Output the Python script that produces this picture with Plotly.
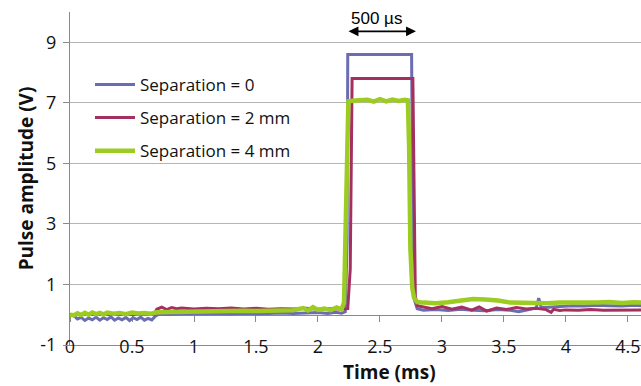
import plotly.graph_objects as go

# ---- data (time in ms, amplitude in V) ----
T_BLUE = [0.00,0.03,0.06,0.09,0.12,0.15,0.18,0.21,0.24,0.27,0.30,0.33,0.36,0.39,0.42,0.45,0.48,0.51,0.54,0.57,0.60,0.63,0.66,0.69,0.72,
          0.80,0.90,1.00,1.10,1.20,1.30,1.40,1.50,1.60,1.70,1.80,1.90,2.00,
          2.08,2.14,2.19,2.22,2.235,2.24,
          2.755,2.765,2.78,2.80,2.85,
          2.95,3.05,3.15,3.25,3.35,3.45,3.55,
          3.62,3.70,3.76,3.78,3.80,3.86,
          3.95,4.05,4.15,4.25,4.35,4.45,4.55,4.61]
V_BLUE = [0.00,-0.03,-0.14,-0.09,-0.19,-0.11,-0.17,-0.08,-0.18,-0.10,-0.16,-0.07,-0.18,-0.11,-0.17,-0.09,-0.19,-0.10,-0.16,-0.08,-0.18,-0.12,-0.17,-0.04,0.02,
          0.01,0.03,0.02,0.03,0.04,0.02,0.05,0.03,0.04,0.06,0.04,0.05,0.07,
          0.04,0.08,0.05,0.10,2.5,8.6,
          8.6,2.0,0.45,0.20,0.15,
          0.17,0.14,0.18,0.15,0.13,0.17,0.15,
          0.10,0.18,0.22,0.55,0.24,0.25,
          0.28,0.30,0.29,0.31,0.30,0.29,0.31,0.30]

T_MAR = [0.00,0.10,0.20,0.30,0.40,0.50,0.60,0.68,
         0.70,0.74,0.78,0.82,0.86,0.90,
         1.00,1.10,1.20,1.30,1.40,1.50,1.60,1.70,1.80,1.90,2.00,2.10,
         2.18,2.24,2.26,2.27,2.275,
         2.765,2.775,2.785,2.80,2.85,
         2.92,3.00,3.08,3.16,3.24,3.30,3.36,3.44,3.52,3.60,3.68,3.76,3.84,3.88,3.90,3.95,
         4.00,4.10,4.20,4.30,4.40,4.50,4.61]
V_MAR = [0.00,0.01,0.00,0.02,0.01,0.02,0.03,0.02,
         0.18,0.25,0.17,0.24,0.20,0.22,
         0.19,0.21,0.20,0.22,0.19,0.21,0.18,0.20,0.19,0.21,0.18,0.20,
         0.19,0.20,1.5,5.0,7.8,
         7.8,3.0,0.6,0.30,0.26,
         0.20,0.27,0.18,0.25,0.15,0.26,0.12,0.22,0.17,0.24,0.19,0.21,0.17,0.08,0.18,0.14,
         0.16,0.15,0.17,0.15,0.16,0.15,0.16]

T_GRN = [0.00,0.03,0.06,0.09,0.12,0.15,0.18,0.21,0.24,0.27,0.30,
         0.35,0.40,0.45,0.50,0.55,0.60,0.65,0.70,
         0.80,0.90,1.00,1.10,1.20,1.30,1.40,1.50,1.60,1.70,1.80,
         1.88,1.92,1.96,2.00,2.05,2.10,2.15,2.19,2.21,
         2.225,2.235,2.245,
         2.30,2.40,2.45,2.50,2.55,2.60,2.65,2.70,
         2.725,2.735,2.745,2.76,2.775,2.80,2.85,
         2.95,3.05,3.15,3.25,3.35,3.45,3.55,3.65,3.75,3.85,3.95,
         4.05,4.15,4.25,4.35,4.45,4.55,4.61]
V_GRN = [0.00,-0.02,0.05,-0.01,0.06,0.00,0.07,0.02,0.06,0.01,0.07,
         0.03,0.06,0.02,0.07,0.04,0.06,0.03,0.08,
         0.09,0.10,0.11,0.10,0.12,0.11,0.13,0.12,0.14,0.13,0.15,
         0.22,0.14,0.25,0.16,0.20,0.15,0.24,0.18,0.40,
         3.5,6.6,7.05,
         7.08,7.10,7.04,7.12,7.05,7.11,7.06,7.10,
         7.08,5.5,2.2,0.9,0.55,0.42,0.40,
         0.38,0.41,0.48,0.52,0.50,0.47,0.40,0.39,0.41,0.38,0.40,
         0.39,0.41,0.40,0.42,0.39,0.41,0.40]

SERIES_NAMES = ["Separation = 0", "Separation = 2 mm", "Separation = 4 mm"]
X_TICKS = [0, 0.5, 1, 1.5, 2, 2.5, 3, 3.5, 4, 4.5]
X_TICKTEXT = ["0", "0.5", "1", "1.5", "2", "2.5", "3", "3.5", "4", "4.5"]
Y_TICKS = [-1, 1, 3, 5, 7, 9]
Y_TICKTEXT = ["-1", "1", "3", "5", "7", "9"]

assert len(T_BLUE) == len(V_BLUE) and len(T_MAR) == len(V_MAR) and len(T_GRN) == len(V_GRN)

COLORS = ["#6b6db3", "#a3305f", "#9ccc22"]
WIDTHS = [3, 3, 4.5]
FONT = "Open Sans"
GRID = "#b5b5b5"
AXIS = "#8a8a8a"
FS = 18
FT = 19

fig = go.Figure()
for i, (t, v) in enumerate([(T_BLUE, V_BLUE), (T_MAR, V_MAR), (T_GRN, V_GRN)]):
    fig.add_trace(go.Scatter(x=t, y=v, mode="lines", name=SERIES_NAMES[i],
                             legendgroup=str(i),
                             line=dict(color=COLORS[i], width=WIDTHS[i])))
# carrier for the secondary axis drawn at y = 0
fig.add_trace(go.Scatter(x=[], y=[], xaxis="x2", showlegend=False, hoverinfo="skip"))

XR = [0, 4.605]
YR = [-1, 10]

fig.update_layout(
    width=641, height=386,
    margin=dict(l=70, r=0, t=12, b=41),
    paper_bgcolor="white", plot_bgcolor="white",
    font=dict(family=FONT, size=FS, color="#111111"),
    showlegend=True,
    legend=dict(x=0.035, y=0.835, xanchor="left", yanchor="top",
                bgcolor="rgba(0,0,0,0)", font=dict(family=FONT, size=17, color="#111111"),
                tracegroupgap=8, itemwidth=40),
    xaxis=dict(range=XR, tickvals=X_TICKS, ticktext=X_TICKTEXT, showgrid=False, zeroline=False,
               showline=True, linecolor=AXIS, linewidth=1, ticks="",
               ticklabelstandoff=-15, tickfont=dict(size=FS)),
    xaxis2=dict(range=XR, overlaying="x", anchor="free", position=1 / 11, tickvals=X_TICKS,
                showticklabels=False, showgrid=False, zeroline=False, showline=True,
                linecolor=AXIS, linewidth=1, ticks="outside", ticklen=6, tickcolor=AXIS,
                layer="below traces"),
    yaxis=dict(range=YR, tickvals=Y_TICKS, ticktext=Y_TICKTEXT, showgrid=True, gridcolor=GRID,
               gridwidth=1, zeroline=False, showline=True, linecolor=AXIS, linewidth=1,
               ticks="outside", ticklen=6, tickcolor=AXIS, ticklabelstandoff=3,
               tickfont=dict(size=FS),
               title=dict(text="<b>Pulse amplitude (V)</b>", font=dict(size=FT), standoff=1)),
)

# x-axis title
fig.add_annotation(text="<b>Time (ms)</b>", x=2.58, xref="x", y=-0.081, yref="paper",
                   showarrow=False, xanchor="center", yanchor="middle", font=dict(size=FT))
# 500 µs double arrow
fig.add_annotation(x=2.79, y=9.36, ax=2.234, ay=9.36, xref="x", yref="y", axref="x", ayref="y",
                   text="", showarrow=True, arrowhead=2, arrowside="end+start",
                   arrowsize=1.1, arrowwidth=1.8, arrowcolor="black")
fig.add_annotation(text="500 µs", x=2.47, y=9.79, xref="x", yref="y", showarrow=False,
                   font=dict(family="Liberation Sans", size=17, color="black"))

fig.write_html("out.html")
